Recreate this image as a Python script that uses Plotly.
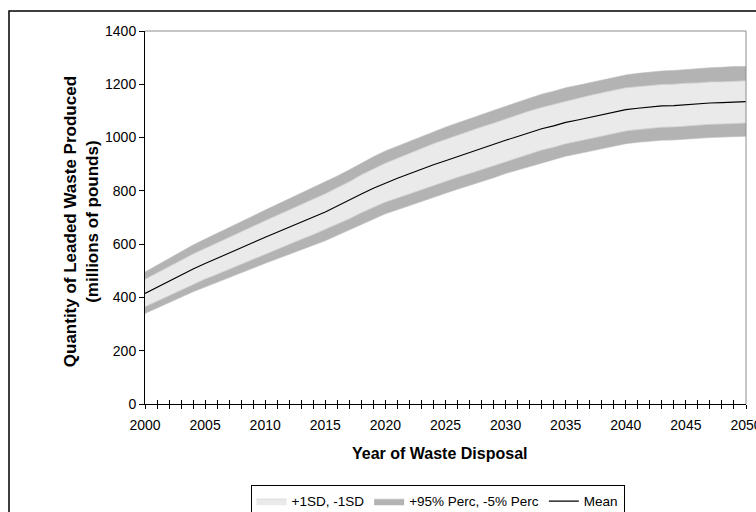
import plotly.graph_objects as go

# Simulated leaded-waste quantities (millions of pounds) by disposal year
years = list(range(2000, 2051))

mean = [415, 438, 460, 485, 507, 527, 546, 566, 587, 606,
        626, 645, 663, 682, 701, 721, 743, 764, 788, 810,
        830, 847, 864, 882, 898, 913, 929, 944, 959, 974,
        990, 1004, 1019, 1033, 1044, 1057, 1066, 1076, 1086, 1095,
        1105, 1110, 1115, 1119, 1120, 1124, 1126, 1130, 1131, 1134,
        1135]

sd_hi = [468, 492, 515, 540, 563, 584, 604, 625, 647, 667,
         688, 708, 727, 748, 768, 789, 812, 834, 860, 883,
         904, 922, 941, 960, 977, 993, 1009, 1024, 1040, 1054,
         1070, 1084, 1100, 1113, 1125, 1137, 1147, 1158, 1167, 1177,
         1187, 1191, 1196, 1199, 1200, 1204, 1205, 1209, 1209, 1212,
         1213]

sd_lo = [365, 386, 406, 430, 450, 469, 487, 506, 526, 545,
         564, 582, 600, 618, 636, 655, 676, 695, 718, 739,
         758, 773, 789, 806, 821, 835, 851, 865, 880, 894,
         910, 924, 939, 953, 964, 977, 986, 996, 1006, 1015,
         1025, 1030, 1035, 1039, 1040, 1044, 1046, 1050, 1051, 1054,
         1055]

p95 = [495, 521, 545, 573, 597, 619, 640, 662, 685, 706,
       728, 749, 769, 790, 811, 833, 856, 879, 905, 928,
       950, 968, 986, 1006, 1023, 1039, 1055, 1071, 1086, 1102,
       1118, 1133, 1148, 1163, 1174, 1187, 1196, 1206, 1217, 1225,
       1235, 1241, 1246, 1250, 1252, 1256, 1259, 1262, 1264, 1267,
       1267]

p5 = [340, 361, 380, 402, 421, 439, 456, 474, 493, 510,
      528, 545, 561, 578, 595, 613, 633, 653, 675, 695,
      714, 729, 745, 762, 777, 791, 806, 820, 835, 849,
      865, 878, 893, 906, 917, 930, 939, 948, 958, 967,
      977, 982, 986, 990, 991, 995, 997, 1000, 1001, 1004,
      1005]

tick_text = [str(y) if y % 5 == 0 else "" for y in years]

FONT = "Liberation Sans, Arial, sans-serif"
LIGHT = "#EAEAEA"
GRAY = "#B3B3B3"

fig = go.Figure()

# 5th-95th percentile band
fig.add_trace(go.Scatter(x=years, y=p5, mode="lines",
                         line=dict(color="#BDBDBD", width=0.6),
                         showlegend=False, hoverinfo="skip"))
fig.add_trace(go.Scatter(x=years, y=p95, mode="lines", fill="tonexty",
                         fillcolor=GRAY, line=dict(color="#BDBDBD", width=0.6),
                         name="+95% Perc, -5% Perc", legendrank=2))

# +/- 1 standard deviation band
fig.add_trace(go.Scatter(x=years, y=sd_lo, mode="lines",
                         line=dict(color="#D2D2D2", width=0.8),
                         showlegend=False, hoverinfo="skip"))
fig.add_trace(go.Scatter(x=years, y=sd_hi, mode="lines", fill="tonexty",
                         fillcolor=LIGHT, line=dict(color="#D2D2D2", width=0.8),
                         name="+1SD, -1SD", legendrank=1))

# Mean curve (on the overlay axis that carries the inner half of the ticks)
fig.add_trace(go.Scatter(x=years, y=mean, mode="lines", xaxis="x2",
                         line=dict(color="black", width=1.1),
                         name="Mean", legendrank=3))

fig.update_layout(
    width=756, height=512,
    margin=dict(l=145, r=10, t=31, b=108, autoexpand=False),
    paper_bgcolor="white", plot_bgcolor="white",
    font=dict(family=FONT, color="black", size=13),
    xaxis=dict(range=[2000, 2050], tickmode="array", tickvals=years,
               ticktext=tick_text, ticks="outside", ticklen=4, tickwidth=1,
               tickcolor="black", showline=True, linecolor="black",
               linewidth=1, showgrid=False, zeroline=False,
               ticklabeloverflow="allow", ticklabelstandoff=4,
               automargin=False, tickfont=dict(size=14)),
    xaxis2=dict(range=[2000, 2050], overlaying="x", anchor="y", side="bottom",
                tickmode="array", tickvals=years, ticks="inside", ticklen=4,
                tickwidth=1, tickcolor="black", showticklabels=False,
                showline=False, showgrid=False, zeroline=False),
    yaxis=dict(range=[0, 1400], dtick=200, ticks="outside", ticklen=5,
               tickwidth=1, tickcolor="black", showline=True,
               linecolor="black", linewidth=1, showgrid=False,
               zeroline=False, automargin=False, tickfont=dict(size=14)),
    legend=dict(orientation="h", x=0.4867, xanchor="center",
                yref="container", y=0.053, yanchor="top",
                bordercolor="black", borderwidth=1, bgcolor="white",
                font=dict(size=13.5), traceorder="normal"),
    shapes=[
        # chart frame
        dict(type="rect", xref="paper", yref="paper",
             x0=-0.2263, x1=1.03, y0=-0.32, y1=1.0536,
             line=dict(color="black", width=1.5), layer="below"),
        # top and right edges of the plot area
        dict(type="line", xref="paper", yref="paper", x0=0, x1=1, y0=1, y1=1,
             line=dict(color="#8C8C8C", width=1)),
        dict(type="line", xref="paper", yref="paper", x0=1, x1=1, y0=0, y1=1,
             line=dict(color="#8C8C8C", width=1)),
    ],
    annotations=[
        dict(text="<b>Quantity of Leaded Waste Produced<br>(millions of pounds)</b>",
             xref="paper", yref="paper", x=-0.1065, y=0.49, textangle=-90,
             showarrow=False, xanchor="center", yanchor="middle",
             font=dict(size=17)),
        dict(text="<b>Year of Waste Disposal</b>", xref="paper", yref="paper",
             x=0.4908, y=-0.134, showarrow=False, xanchor="center",
             yanchor="middle", font=dict(size=16)),
    ],
)

fig.write_html("out.html")
